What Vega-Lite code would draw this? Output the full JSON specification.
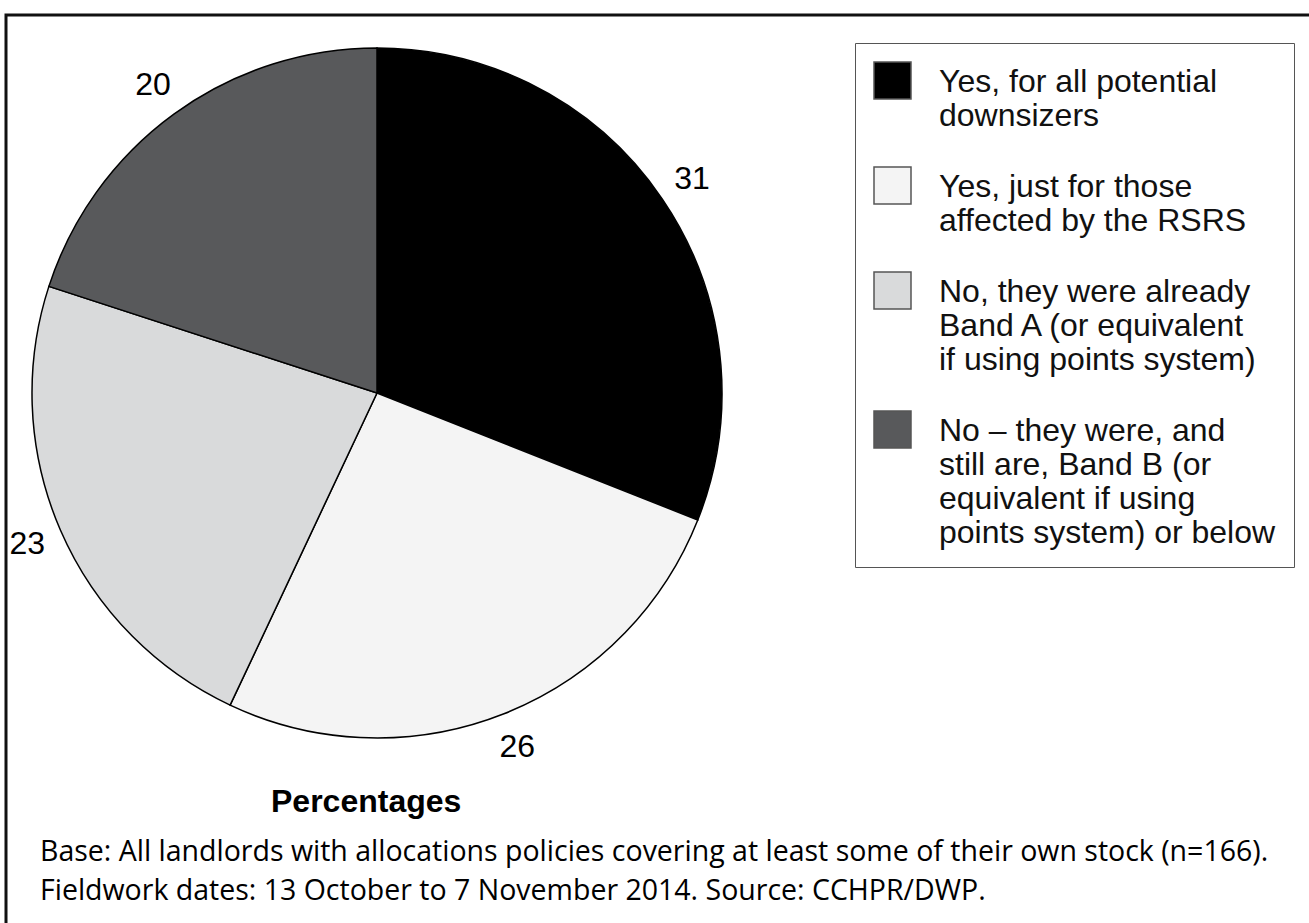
{
  "$schema": "https://vega.github.io/schema/vega-lite/v6.json",
  "width": 1309,
  "height": 923,
  "autosize": {"type": "fit", "contains": "padding"},
  "padding": {"left": 6, "top": 15, "right": -6, "bottom": -6},
  "background": "white",
  "data": {
    "values": [
      {"category": "Yes, for all potential downsizers", "value": 31, "idx": 1},
      {"category": "Yes, just for those affected by the RSRS", "value": 26, "idx": 2},
      {"category": "No, they were already Band A (or equivalent if using points system)", "value": 23, "idx": 3},
      {"category": "No – they were, and still are, Band B (or equivalent if using points system) or below", "value": 20, "idx": 4}
    ]
  },
  "title": {
    "text": "Percentages",
    "subtitle": [
      "Base: All landlords with allocations policies covering at least some of their own stock (n=166).",
      "Fieldwork dates: 13 October to 7 November 2014. Source: CCHPR/DWP."
    ],
    "orient": "bottom",
    "anchor": "start",
    "frame": "group",
    "offset": -142,
    "dx": 34,
    "font": "Liberation Sans",
    "fontSize": 32,
    "fontWeight": "bold",
    "color": "#000",
    "subtitleFont": "Open Sans",
    "subtitleFontSize": 28.5,
    "subtitleColor": "#000",
    "subtitleLineHeight": 39,
    "subtitlePadding": 18.5,
    "encoding": {"dx": {"value": 265}}
  },
  "layer": [
    {
      "mark": {"type": "arc", "radius": 345, "stroke": "#000", "strokeWidth": 1.5},
      "encoding": {
        "theta": {"field": "value", "type": "quantitative", "stack": true},
        "order": {"field": "idx", "type": "quantitative"},
        "x": {"value": 371},
        "y": {"value": 378},
        "color": {
          "field": "category",
          "type": "nominal",
          "scale": {
            "domain": [
              "Yes, for all potential downsizers",
              "Yes, just for those affected by the RSRS",
              "No, they were already Band A (or equivalent if using points system)",
              "No – they were, and still are, Band B (or equivalent if using points system) or below"
            ],
            "range": ["#000000", "#f4f4f4", "#d9dadb", "#58595b"]
          },
          "legend": {
            "title": null,
            "orient": "none",
            "legendX": 849,
            "legendY": 28,
            "direction": "vertical",
            "symbolType": "square",
            "symbolSize": 1369,
            "symbolStrokeWidth": 1.5,
            "symbolStrokeColor": "#555",
            "labelFont": "Liberation Sans",
            "labelFontSize": 32,
            "labelLineHeight": 36.7,
            "labelColor": "#111",
            "labelBaseline": "top",
            "labelOffset": 27,
            "labelLimit": 600,
            "rowPadding": 32,
            "padding": 18,
            "strokeColor": "#555",
            "fillColor": "#ffffff",
            "labelExpr": "datum.label == 'Yes, for all potential downsizers' ? ['Yes, for all potential', 'downsizers'] : datum.label == 'Yes, just for those affected by the RSRS' ? ['Yes, just for those', 'affected by the RSRS'] : datum.label == 'No, they were already Band A (or equivalent if using points system)' ? ['No, they were already', 'Band A (or equivalent', 'if using points system)'] : ['No – they were, and', 'still are, Band B (or', 'equivalent if using', 'points system) or below']",
            "encode": {
              "labels": {"update": {"dy": {"value": -14}}},
              "symbols": {"update": {"stroke": {"value": "#555"}, "strokeWidth": {"value": 1.5}}}
            }
          }
        }
      }
    },
    {
      "mark": {"type": "text", "radius": 381, "font": "Liberation Sans", "fontSize": 32, "fill": "#000"},
      "encoding": {
        "theta": {"field": "value", "type": "quantitative", "stack": true},
        "order": {"field": "idx", "type": "quantitative"},
        "x": {"value": 371},
        "y": {"value": 378},
        "text": {"field": "value", "type": "quantitative"}
      }
    }
  ],
  "config": {
    "view": {"stroke": "#111", "strokeWidth": 3}
  }
}
